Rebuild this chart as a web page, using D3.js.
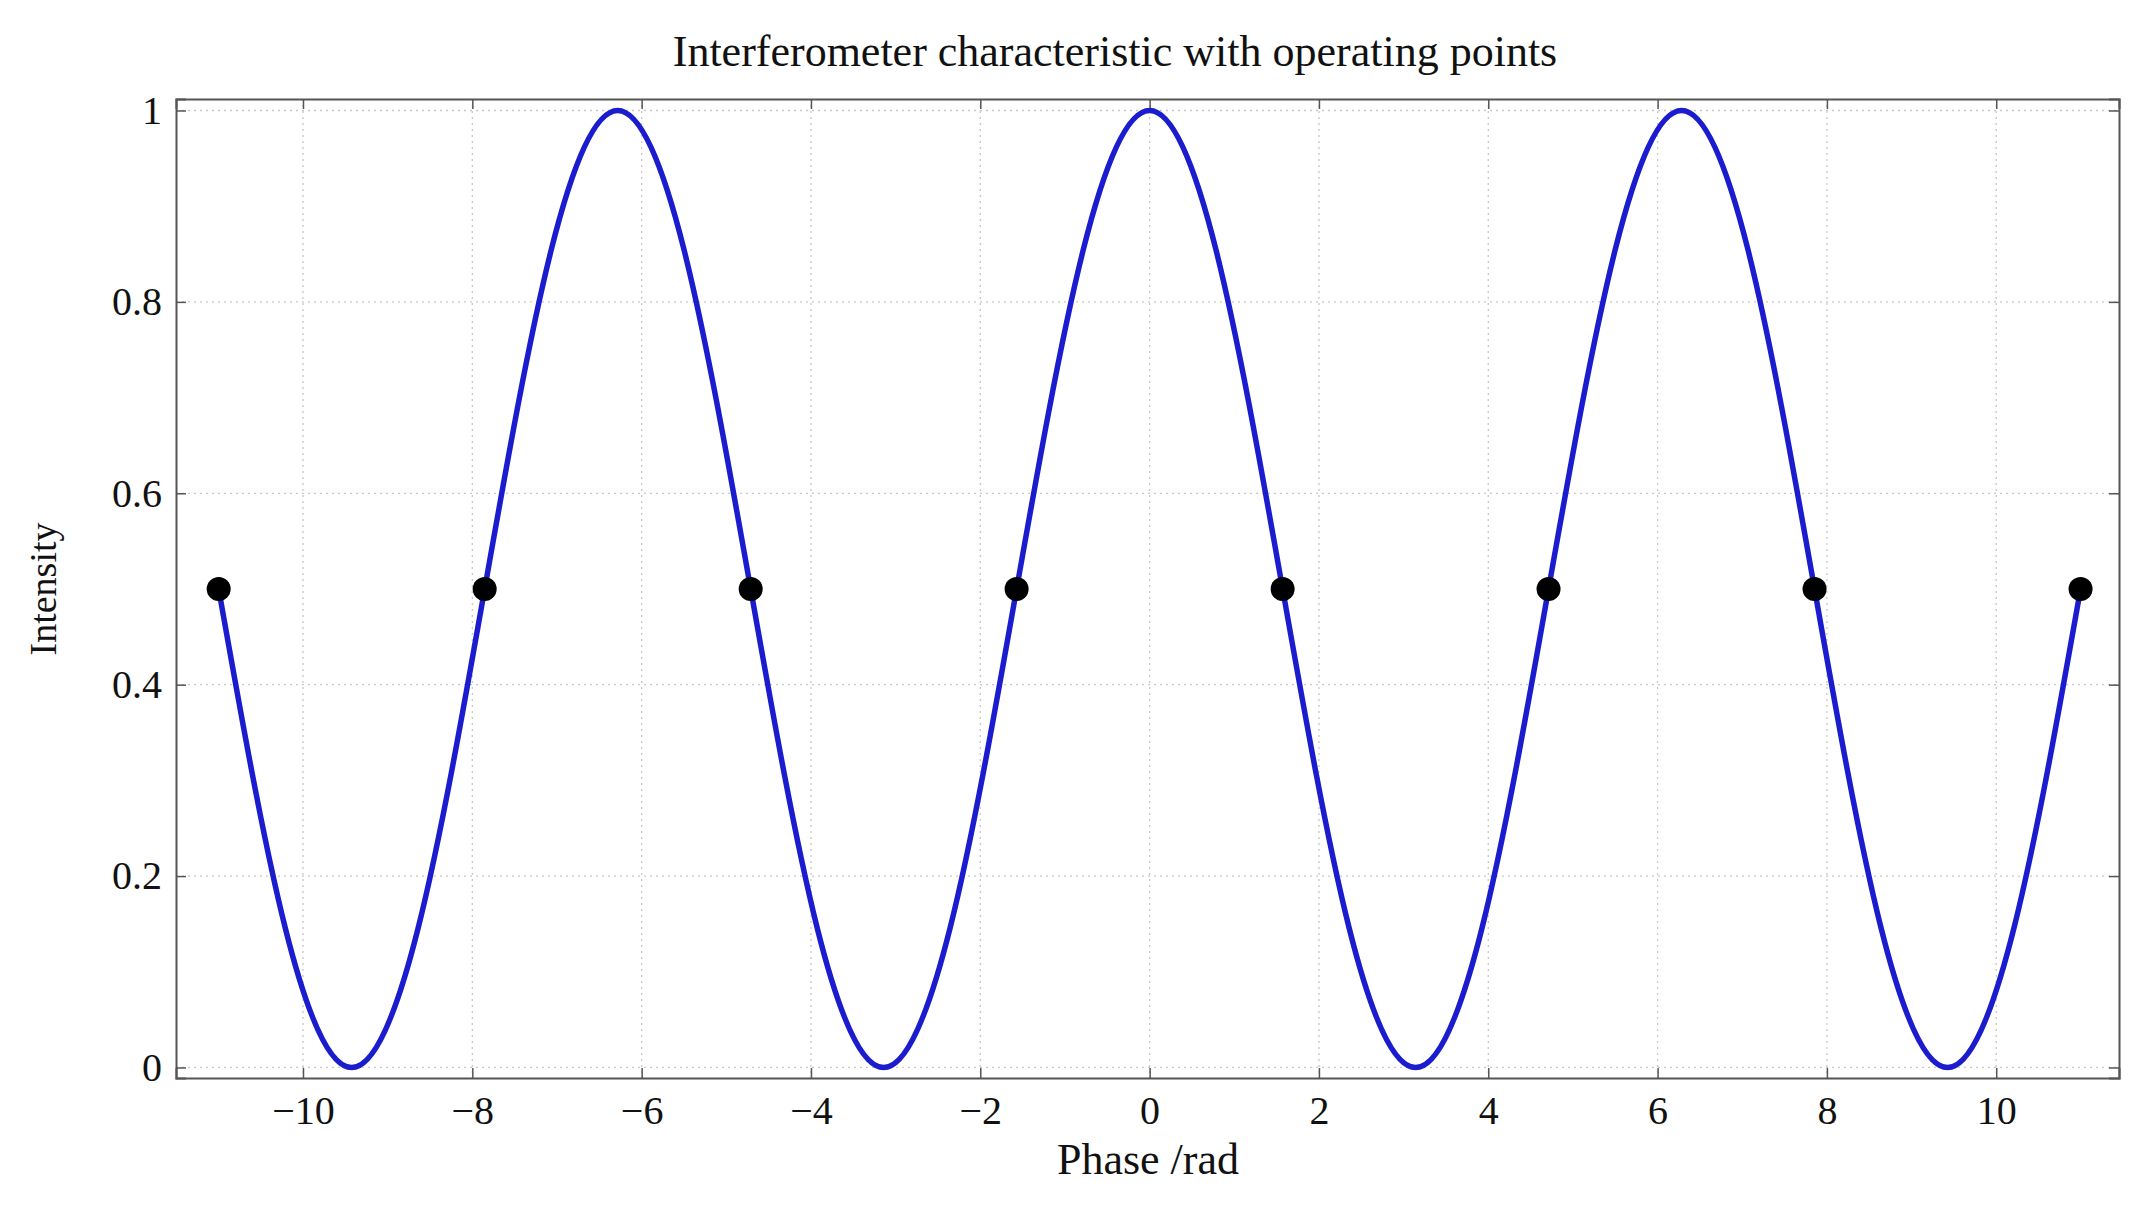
<!DOCTYPE html>
<html>
<head>
<meta charset="utf-8">
<script src="https://cdn.jsdelivr.net/npm/d3@7"></script>
<style>
  body { margin: 0; background: #fff; }
  text { font-family: "Liberation Serif", "DejaVu Serif", serif; fill: #111; }
</style>
</head>
<body>
<svg id="chart" width="2142" height="1206"></svg>
<script>
const phase = [-10.996, -10.210, -9.425, -8.639, -7.854, -7.069, -6.283, -5.498,
  -4.712, -3.927, -3.142, -2.356, -1.571, -0.785, 0, 0.785, 1.571, 2.356, 3.142,
  3.927, 4.712, 5.498, 6.283, 7.069, 7.854, 8.639, 9.425, 10.210, 10.996]
const intensity = [0.5, 0.146, 0, 0.146, 0.5, 0.854, 1, 0.854,
  0.5, 0.146, 0, 0.146, 0.5, 0.854, 1, 0.854, 0.5, 0.146, 0,
  0.146, 0.5, 0.854, 1, 0.854, 0.5, 0.146, 0, 0.146, 0.5]

// operating points
const opPhase = [-10.996, -7.854, -4.712, -1.571, 1.571, 4.712, 7.854, 10.996]
const opIntensity = [0.5, 0.5, 0.5, 0.5, 0.5, 0.5, 0.5, 0.5]

const xTicks = [-10, -8, -6, -4, -2, 0, 2, 4, 6, 8, 10]
const yTicks = [0, 0.2, 0.4, 0.6, 0.8, 1]

const margin = { left: 176, right: 23, top: 99, bottom: 128 }
const W = 2142, H = 1206
const svg = d3.select("#chart")

const x = d3.scaleLinear().domain([-11.5, 11.45]).range([margin.left, W - margin.right])
const y = d3.scaleLinear().domain([-0.011, 1.012]).range([H - margin.bottom, margin.top])

// grid
const grid = svg.append("g")
grid.selectAll(".gx").data(xTicks).enter().append("line")
  .attr("x1", d => x(d)).attr("x2", d => x(d))
  .attr("y1", y.range()[1]).attr("y2", y.range()[0])
  .attr("stroke", "#c8c8c8").attr("stroke-width", 1.3).attr("stroke-dasharray", "2,4")
grid.selectAll(".gy").data(yTicks).enter().append("line")
  .attr("y1", d => y(d)).attr("y2", d => y(d))
  .attr("x1", x.range()[0]).attr("x2", x.range()[1])
  .attr("stroke", "#c8c8c8").attr("stroke-width", 1.3).attr("stroke-dasharray", "2,4")

// axes, ticks pointing inward like matlab
const fmt = d => d === 0 ? "0" : String(d).replace("-", "\u2212")
const axBottom = svg.append("g").attr("transform", "translate(0," + y.range()[0] + ")")
  .call(d3.axisBottom(x).tickValues(xTicks).tickSize(-10).tickPadding(18).tickFormat(fmt))
const axTop = svg.append("g").attr("transform", "translate(0," + y.range()[1] + ")")
  .call(d3.axisTop(x).tickValues(xTicks).tickSize(-10).tickFormat(""))
const axLeft = svg.append("g").attr("transform", "translate(" + x.range()[0] + ",0)")
  .call(d3.axisLeft(y).tickValues(yTicks).tickSize(-10).tickPadding(14).tickFormat(d => String(d)))
const axRight = svg.append("g").attr("transform", "translate(" + x.range()[1] + ",0)")
  .call(d3.axisRight(y).tickValues(yTicks).tickSize(-10).tickFormat(""))
;[axBottom, axTop, axLeft, axRight].forEach(g => {
  g.selectAll("path").attr("stroke", "#555").attr("stroke-width", 2)
  g.selectAll("line").attr("stroke", "#555").attr("stroke-width", 1.5)
  g.selectAll("text").style("font-size", "40px").style("font-family", "Liberation Serif").attr("fill", "#111")
})

// curve
const pts = phase.map((p, i) => [p, intensity[i]])
svg.append("path").datum(pts)
  .attr("d", d3.line().x(d => x(d[0])).y(d => y(d[1])).curve(d3.curveNatural))
  .attr("fill", "none").attr("stroke", "#1c1ccf").attr("stroke-width", 5.5)

// operating points
svg.selectAll(".op").data(opPhase).enter().append("circle")
  .attr("cx", d => x(d)).attr("cy", (d, i) => y(opIntensity[i]))
  .attr("r", 12).attr("fill", "#000")

// labels
svg.append("text").attr("x", 1115).attr("y", 66).attr("text-anchor", "middle")
  .style("font-size", "44px").text("Interferometer characteristic with operating points")
svg.append("text").attr("x", 1148).attr("y", 1174).attr("text-anchor", "middle")
  .style("font-size", "44px").text("Phase /rad")
svg.append("text").attr("transform", "translate(56," + y(0.5) + ") rotate(-90)")
  .attr("text-anchor", "middle").style("font-size", "38px").text("Intensity")
</script>
</body>
</html>
